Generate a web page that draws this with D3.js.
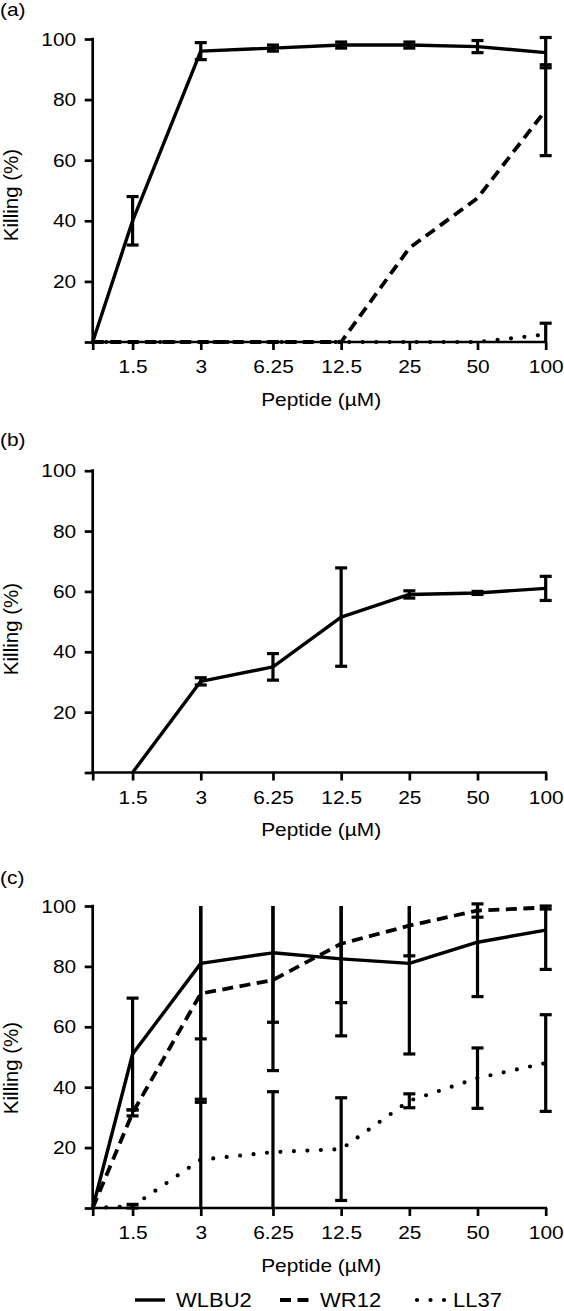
<!DOCTYPE html>
<html>
<head>
<meta charset="utf-8">
<script src="https://cdn.jsdelivr.net/npm/d3@7"></script>
<style>
  html, body { margin: 0; padding: 0; background: #fff; }
  svg { display: block; }
  text { font-family: "Liberation Sans", Arial, Helvetica, sans-serif; fill: #000; }
</style>
</head>
<body>
<svg id="chart" width="564" height="1311"></svg>
<script>
// ---------- data ----------
// dose 0 = untreated control, drawn at the axis origin
const doses = [0, 1.5, 3, 6.25, 12.5, 25, 50, 100];
const xTickValues = [1, 1.5, 3, 6.25, 12.5, 25, 50, 100];
const xTickLabels = ["", "1.5", "3", "6.25", "12.5", "25", "50", "100"];
const yTickValues = [0, 20, 40, 60, 80, 100];
const yTickLabels = ["", "20", "40", "60", "80", "100"];
const seriesNames = ["WLBU2", "WR12", "LL37"];

// panel (a)
const aWLBU2    = [0, 40, 96, 97, 98, 98, 97.5, 95.5];
const aWLBU2Err = [0, 8, 2.8, 1, 1, 1, 2, 5];
const aWR12     = [0, 0, 0, 0, 0, 31, 47.5, 76.5];
const aWR12Err  = [0, 0, 0, 0, 0, 0, 0, 15];
const aLL37     = [0, 0, 0, 0, 0, 0, 0, 2.5];
const aLL37Err  = [0, 0, 0, 0, 0, 0, 0, 3.7];

// panel (b)
const bWLBU2    = [null, 0, 30.2, 35, 51.5, 59, 59.5, 61];
const bWLBU2Err = [null, 0, 1.2, 4.4, 16.3, 1.2, 0.5, 4];

// panel (c)
const cWLBU2    = [0, 51, 81, 84.5, 82.5, 81, 88, 92];
const cWLBU2Err = [0, 18.5, 25, 23, 25.5, 30, 18, 13];
const cWR12     = [0, 31.5, 71, 75.5, 87.5, 93.5, 98.5, 99.5];
const cWR12Err  = [0, 1, 35, 30, 19.5, 10, 2.2, 0.5];
const cLL37     = [0, 0.6, 16, 18.5, 19.5, 35.5, 43, 48];
const cLL37Err  = [0, 0.6, 19, 20, 17, 2.3, 10, 16];

// ---------- styles ----------
const styles = {
  WLBU2: { width: 3.4, dash: null, cap: "butt" },
  WR12:  { width: 3.8, dash: "11,6.5", cap: "butt" },
  LL37:  { width: 4.2, dash: "0,13.5", cap: "round" }
};
const FS = 19;          // base font size
const STRETCH = 1.1;    // horizontal widening of the lettering

function widen(sel, f) {
  sel.each(function () {
    const L = this.getComputedTextLength();
    this.setAttribute("textLength", L * f);
    this.setAttribute("lengthAdjust", "spacingAndGlyphs");
  });
}

const svg = d3.select("#chart");
const X0 = 92.7, X1 = 545.7;

const panels = [
  { label: "(a)", labelY: 16, top: 39, bottom: 342, titleY: 195,
    series: [["WLBU2", aWLBU2, aWLBU2Err], ["WR12", aWR12, aWR12Err], ["LL37", aLL37, aLL37Err]] },
  { label: "(b)", labelY: 446, top: 470.7, bottom: 772.5, titleY: 629,
    series: [["WLBU2", bWLBU2, bWLBU2Err]] },
  { label: "(c)", labelY: 884, top: 906, bottom: 1208, titleY: 1068,
    series: [["WLBU2", cWLBU2, cWLBU2Err], ["WR12", cWR12, cWR12Err], ["LL37", cLL37, cLL37Err]] }
];

const x = d3.scaleLog().domain([1, 100]).range([X0, X1]);
const xPos = d => x(d === 0 ? 1 : d);

panels.forEach(p => {
  const y = d3.scaleLinear().domain([0, 100]).range([p.bottom, p.top]);
  const g = svg.append("g");

  // panel letter
  g.append("text").attr("x", 0).attr("y", p.labelY)
    .attr("font-size", FS).text(p.label).call(widen, STRETCH);

  // axes
  const yAxis = d3.axisLeft(y).tickValues(yTickValues)
    .tickFormat((d, i) => yTickLabels[i]).tickSize(8).tickPadding(8.5);
  const yg = g.append("g").attr("transform", `translate(${X0},0)`).call(yAxis);
  const xAxis = d3.axisBottom(x).tickValues(xTickValues)
    .tickFormat((d, i) => xTickLabels[i]).tickSize(8).tickPadding(10);
  const xg = g.append("g").attr("transform", `translate(0,${p.bottom})`).call(xAxis);
  [yg, xg].forEach(a => {
    a.select(".domain").attr("stroke", "#000").attr("stroke-width", 2.7)
      .attr("stroke-linecap", "square");
    a.selectAll(".tick line").attr("stroke", "#000").attr("stroke-width", 2.7);
    a.selectAll(".tick text").attr("font-size", FS)
      .attr("font-family", '"Liberation Sans", Arial, sans-serif').attr("fill", "#000")
      .filter(function () { return this.textContent !== ""; })
      .call(widen, STRETCH);
  });
  yg.select(".domain").attr("d", `M0,${y(0)}V${y(100)}`);
  xg.select(".domain").attr("d", `M${X0},0H${X1}`);

  // axis titles
  g.append("text").attr("x", (X0 + X1) / 2 + 2).attr("y", p.bottom + 63.5)
    .attr("text-anchor", "middle").attr("font-size", FS).text("Peptide (\u00B5M)")
    .call(widen, STRETCH);
  g.append("text")
    .attr("transform", `translate(18,${p.titleY}) rotate(-90)`)
    .attr("text-anchor", "middle").attr("font-size", 20.5).text("Killing (%)");

  // lines
  p.series.forEach(([name, vals, errs]) => {
    const st = styles[name];
    const pts = doses.map((d, i) => ({ d, v: vals[i], e: errs[i] }))
      .filter(o => o.v !== null);
    const line = d3.line().x(o => xPos(o.d)).y(o => y(o.v));
    g.append("path").datum(pts).attr("d", line)
      .attr("fill", "none").attr("stroke", "#000")
      .attr("stroke-width", st.width)
      .attr("stroke-dasharray", st.dash)
      .attr("stroke-linecap", st.cap)
      .attr("stroke-linejoin", "round");
  });

  // error bars (clipped at the axis limits; caps only where the end is visible)
  p.series.forEach(([name, vals, errs]) => {
    doses.forEach((d, i) => {
      const v = vals[i], e = errs[i];
      if (v === null || !e) return;
      const cx = xPos(d);
      const hiRaw = v + e, loRaw = v - e;
      const hi = hiRaw > 101 ? 100 : hiRaw;
      const lo = Math.max(loRaw, 0);
      g.append("line").attr("x1", cx).attr("x2", cx)
        .attr("y1", y(hi)).attr("y2", y(lo))
        .attr("stroke", "#000").attr("stroke-width", 3.2);
      const caps = [];
      if (hiRaw <= 101) caps.push(hiRaw);
      if (loRaw >= -0.01) caps.push(Math.max(loRaw, 0));
      caps.forEach(c => {
        g.append("line").attr("x1", cx - 6).attr("x2", cx + 6)
          .attr("y1", y(c)).attr("y2", y(c))
          .attr("stroke", "#000").attr("stroke-width", 3.2);
      });
    });
  });
});

// legend
const legend = [
  { name: "WLBU2", x1: 135, x2: 165, tx: 176 },
  { name: "WR12", x1: 280, x2: 309, tx: 320 },
  { name: "LL37", x1: 417, x2: 446, tx: 453 }
];
const lg = svg.append("g");
legend.forEach(L => {
  const st = styles[L.name];
  lg.append("line").attr("x1", L.x1).attr("x2", L.x2).attr("y1", 1300).attr("y2", 1300)
    .attr("stroke", "#000").attr("stroke-width", st.width)
    .attr("stroke-dasharray", st.dash).attr("stroke-linecap", st.cap);
  lg.append("text").attr("x", L.tx).attr("y", 1306.5).attr("font-size", 20)
    .text(L.name).call(widen, STRETCH);
});
</script>
</body>
</html>
